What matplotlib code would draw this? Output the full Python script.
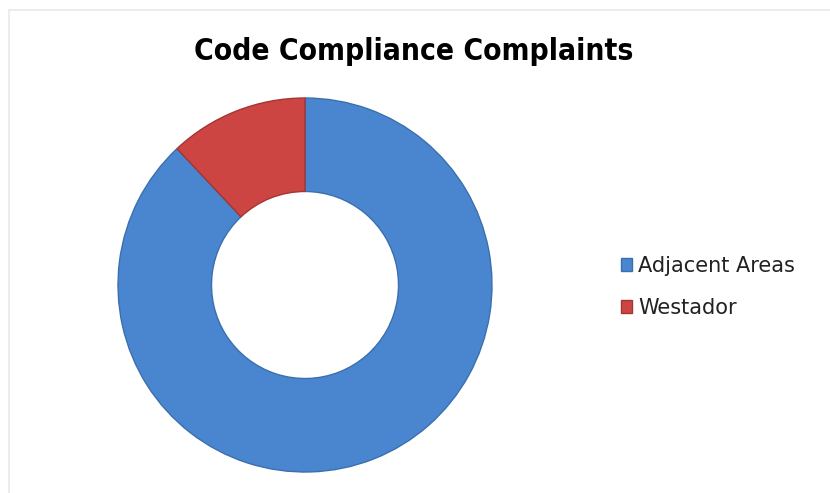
import matplotlib
matplotlib.use("Agg")
import matplotlib.pyplot as plt
from matplotlib.patches import Rectangle

labels = ["Adjacent Areas", "Westador"]
values = [88, 12]
colors = ["#4A86CF", "#CD4543"]
edges = ["#3A6FAE", "#A33533"]

fig = plt.figure(figsize=(8.3, 4.93), dpi=100)
fig.patch.set_facecolor("white")

# faint frame line like the screenshot
fig.add_artist(Rectangle((9 / 830, -0.1), 1.2, (493 - 10) / 493 + 0.1,
                         transform=fig.transFigure, fill=False,
                         edgecolor="#ececec", linewidth=1.5))

ax = fig.add_axes([118 / 830, 21 / 493, 374 / 830, 374 / 493])
wedges, _ = ax.pie(values, colors=colors, startangle=90, counterclock=False,
                   radius=1.0, wedgeprops=dict(width=0.5, linewidth=1.0))
for w, ec in zip(wedges, edges):
    w.set_edgecolor(ec)
ax.set_xlim(-1.0, 1.0)
ax.set_ylim(-1.0, 1.0)
ax.set_aspect("equal")
ax.axis("off")

fig.text(414 / 830, 1 - 52 / 493, "Code Compliance Complaints",
         ha="center", va="center", fontsize=21.5, fontweight="bold",
         family="DejaVu Sans", fontstretch="condensed")

leg = fig.legend(wedges, labels, loc="center left",
                 bbox_to_anchor=(602 / 830, 1 - 287 / 493), frameon=False,
                 prop={"family": "DejaVu Sans", "size": 15}, handlelength=0.55,
                 handleheight=0.55, handletextpad=0.3, labelspacing=1.05)
for t in leg.get_texts():
    t.set_color("#222222")

fig.savefig("out.png", dpi=100)
